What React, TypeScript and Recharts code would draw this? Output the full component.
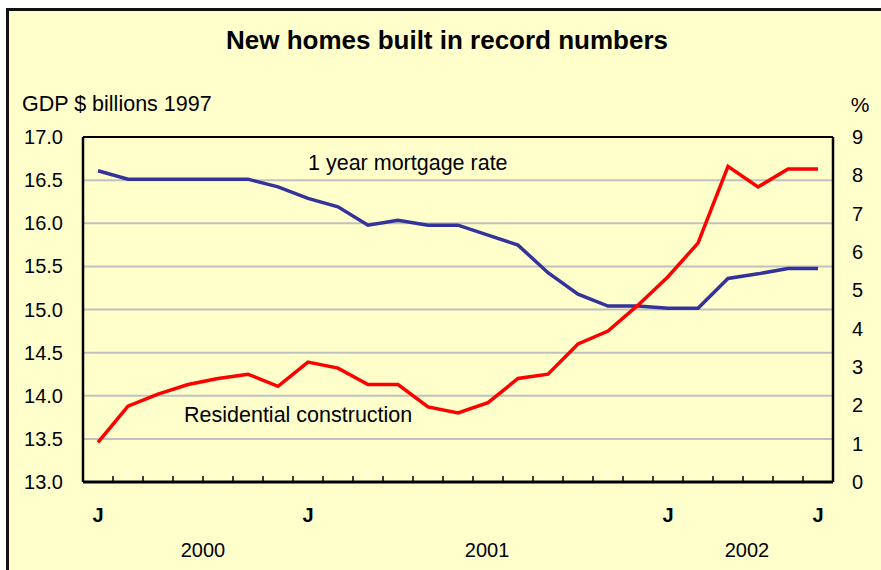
import React from "react";
import {
  LineChart,
  Line,
  XAxis,
  YAxis,
  CartesianGrid,
  ReferenceLine,
} from "recharts";

// monthly, June 2000 to June 2002
const months = [
  "Jun 2000", "Jul 2000", "Aug 2000", "Sep 2000", "Oct 2000", "Nov 2000", "Dec 2000",
  "Jan 2001", "Feb 2001", "Mar 2001", "Apr 2001", "May 2001", "Jun 2001",
  "Jul 2001", "Aug 2001", "Sep 2001", "Oct 2001", "Nov 2001", "Dec 2001",
  "Jan 2002", "Feb 2002", "Mar 2002", "Apr 2002", "May 2002", "Jun 2002",
];
// GDP $ billions 1997 (left axis)
const residential = [
  13.46, 13.88, 14.02, 14.13, 14.2, 14.25, 14.11, 14.39, 14.32, 14.13, 14.13, 13.87,
  13.8, 13.92, 14.2, 14.25, 14.6, 14.75, 15.05, 15.38, 15.77, 16.66, 16.42, 16.63, 16.63,
];
// % (right axis)
const mortgage = [
  8.12, 7.9, 7.9, 7.9, 7.9, 7.9, 7.7, 7.4, 7.18, 6.7, 6.83, 6.7, 6.7, 6.44, 6.18,
  5.46, 4.9, 4.59, 4.59, 4.53, 4.53, 5.31, 5.43, 5.57, 5.57,
];

const leftTicks = [13, 13.5, 14, 14.5, 15, 15.5, 16, 16.5, 17];
const rightTicks = [0, 1, 2, 3, 4, 5, 6, 7, 8, 9];
// months that get a "J" under the axis
const jMonths = ["Jun 2000", "Jan 2001", "Jan 2002", "Jun 2002"];
const yearLabels = ["2000", "2001", "2002"];
const yearAt = [4.0, 13.47, 22.13];

const data = months.map((m, i) => ({
  month: m,
  x: i + 0.5,
  residential: residential[i],
  mortgage: mortgage[i],
}));

const FONT = "'Liberation Sans', Arial, sans-serif";
const boundaryTicks = months.slice(1).map((_, i) => i + 1);
const jTicks = jMonths.map((m) => months.indexOf(m) + 0.5);
const TICK_LEN = 0.07; // in left-axis units

const JTick = ({ x, y }: any) => (
  <text x={x} y={y} dy="0.71em" textAnchor="middle" fontFamily={FONT} fontWeight="bold" fontSize={20} fill="#000">
    J
  </text>
);

const YearTick = ({ x, y, payload }: any) => (
  <text x={x} y={y} dy="0.71em" textAnchor="middle" fontFamily={FONT} fontSize={20} fill="#000">
    {yearLabels[yearAt.indexOf(payload.value)]}
  </text>
);

export default function App() {
  return (
    <div style={{ position: "fixed", left: 0, top: 0, width: 881, height: 570, background: "#fff", overflow: "hidden" }}>
      <div
        style={{
          position: "absolute",
          left: 6,
          top: 8,
          width: 900,
          height: 600,
          background: "#FFFFCC",
          borderLeft: "3px solid #111",
          borderTop: "3px solid #111",
        }}
      />
      <div style={{ position: "absolute", left: 0, top: 0 }}>
        <LineChart width={881} height={570} data={data} margin={{ top: 137, right: 0, bottom: 0, left: 0 }}>
          <CartesianGrid yAxisId="left" xAxisId="x1" horizontal vertical={false} stroke="#C0C0C0" strokeWidth={2} />
          <XAxis
            xAxisId="x1"
            type="number"
            dataKey="x"
            domain={[0, 25]}
            allowDataOverflow
            ticks={boundaryTicks}
            interval={0}
            height={14}
            tick={false}
            tickLine={false}
            axisLine={false}
          />
          <XAxis
            xAxisId="x2"
            type="number"
            dataKey="x"
            domain={[0, 25]}
            allowDataOverflow
            ticks={jTicks}
            interval={0}
            height={40}
            tickSize={0}
            tickMargin={12}
            tick={<JTick />}
            axisLine={false}
            tickLine={false}
          />
          <XAxis
            xAxisId="x3"
            type="number"
            dataKey="x"
            domain={[0, 25]}
            allowDataOverflow
            ticks={yearAt}
            interval={0}
            height={34}
            tickSize={0}
            tickMargin={7}
            tick={<YearTick />}
            axisLine={false}
            tickLine={false}
          />
          <YAxis
            yAxisId="left"
            domain={[13, 17]}
            allowDataOverflow
            ticks={leftTicks}
            interval={0}
            width={83}
            tickSize={0}
            tickMargin={20}
            tickFormatter={(v: number) => v.toFixed(1)}
            tick={{ fill: "#000", fontSize: 20, fontFamily: FONT }}
            axisLine={{ stroke: "#000", strokeWidth: 2.5 }}
            tickLine={false}
          />
          <YAxis
            yAxisId="right"
            orientation="right"
            domain={[0, 9]}
            allowDataOverflow
            ticks={rightTicks}
            interval={0}
            width={48}
            tickSize={0}
            tickMargin={19}
            tick={{ fill: "#000", fontSize: 20, fontFamily: FONT, textAnchor: "start" }}
            axisLine={{ stroke: "#000", strokeWidth: 2.5 }}
            tickLine={false}
          />
          <ReferenceLine yAxisId="left" xAxisId="x1" y={17} stroke="#000" strokeWidth={2} />
          <ReferenceLine yAxisId="left" xAxisId="x1" y={13} stroke="#000" strokeWidth={3} />
          {boundaryTicks.map((t) => (
            <ReferenceLine
              key={t}
              yAxisId="left"
              xAxisId="x1"
              segment={[{ x: t, y: 13 }, { x: t, y: 13 + TICK_LEN }]}
              stroke="#000"
              strokeWidth={1.5}
            />
          ))}
          <Line
            yAxisId="right"
            xAxisId="x1"
            type="linear"
            dataKey="mortgage"
            stroke="#333399"
            strokeWidth={3.5}
            dot={false}
            isAnimationActive={false}
          />
          <Line
            yAxisId="left"
            xAxisId="x1"
            type="linear"
            dataKey="residential"
            stroke="#FF0000"
            strokeWidth={3.5}
            dot={false}
            isAnimationActive={false}
          />
        </LineChart>
      </div>
      <svg width={881} height={570} style={{ position: "absolute", left: 0, top: 0, pointerEvents: "none" }}>
        <text x={447} y={40} dominantBaseline="central" textAnchor="middle" fontFamily={FONT} fontWeight="bold" fontSize={26} fill="#000">
          New homes built in record numbers
        </text>
        <text x={22} y={104} dominantBaseline="central" fontFamily={FONT} fontSize={21.5} fill="#000">
          GDP $ billions 1997
        </text>
        <text x={860} y={104} dominantBaseline="central" textAnchor="middle" fontFamily={FONT} fontSize={21} fill="#000">
          %
        </text>
        <text x={308} y={163} dominantBaseline="central" fontFamily={FONT} fontSize={21.5} fill="#000">
          1 year mortgage rate
        </text>
        <text x={184} y={415} dominantBaseline="central" fontFamily={FONT} fontSize={21.5} fill="#000">
          Residential construction
        </text>
      </svg>
    </div>
  );
}
